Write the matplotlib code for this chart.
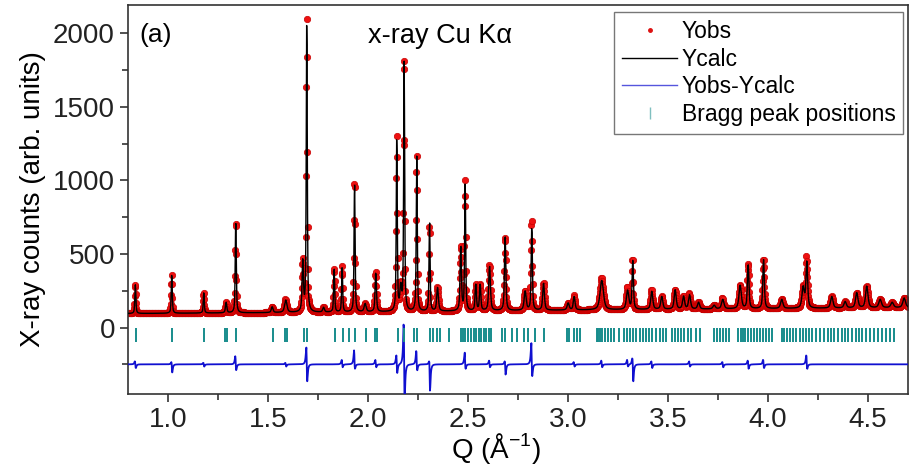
import numpy as np
import matplotlib
matplotlib.use("Agg")
import matplotlib.pyplot as plt
from matplotlib.ticker import MultipleLocator
from matplotlib.lines import Line2D

plt.rcParams['font.family'] = ['Liberation Sans', 'DejaVu Sans']
plt.rcParams['mathtext.fontset'] = 'custom'
plt.rcParams['mathtext.rm'] = 'Liberation Sans'

# peaks: position (1/A), top of Ycalc (counts), fwhm (1/A)
peak_q = [0.836, 1.018, 1.178, 1.290, 1.338, 1.520, 1.588, 1.673, 1.693, 1.777,
          1.830, 1.870, 1.932, 1.985, 2.038, 2.143, 2.163, 2.180, 2.243, 2.307,
          2.347, 2.463, 2.485, 2.538, 2.560, 2.607, 2.685, 2.785, 2.818, 2.877,
          3.000, 3.030, 3.168, 3.297, 3.323, 3.418, 3.468, 3.535, 3.577, 3.607,
          3.652, 3.730, 3.773, 3.860, 3.900, 3.977, 4.068, 4.175, 4.193, 4.318,
          4.385, 4.443, 4.493, 4.560, 4.620, 4.680]
peak_h = [290, 360, 235, 170, 720, 140, 185, 440, 2090, 135,
          400, 410, 985, 160, 370, 1290, 260, 1795, 1160, 720,
          270, 545, 985, 290, 290, 415, 620, 245, 677, 300,
          165, 210, 320, 250, 450, 245, 210, 255, 210, 220,
          170, 150, 190, 285, 425, 460, 190, 270, 440, 210,
          175, 235, 280, 190, 170, 200]
peak_w = [0.006, 0.006, 0.006, 0.008, 0.006, 0.010, 0.014, 0.008, 0.006, 0.010,
          0.006, 0.006, 0.006, 0.012, 0.008, 0.006, 0.010, 0.006, 0.006, 0.006,
          0.010, 0.008, 0.006, 0.008, 0.008, 0.010, 0.008, 0.012, 0.007, 0.010,
          0.012, 0.010, 0.020, 0.014, 0.008, 0.012, 0.012, 0.012, 0.012, 0.012,
          0.012, 0.014, 0.014, 0.014, 0.009, 0.009, 0.014, 0.014, 0.010, 0.014,
          0.014, 0.014, 0.014, 0.016, 0.016, 0.016]

# background level
bg_q = [0.8, 2.0, 3.0, 4.7]
bg_y = [95, 105, 118, 135]

# misfit features: position, upper lobe, lower lobe (counts)
res_q = [0.836, 1.018, 1.178, 1.338, 1.588, 1.693, 1.870, 1.932, 2.038, 2.143,
         2.180, 2.243, 2.307, 2.485, 2.607, 2.685, 2.818, 3.030, 3.168, 3.297,
         3.323, 3.418, 3.607, 3.773, 3.900, 3.977, 4.193]
res_hi = [20, 15, 10, 55, 10, 115, 30, 95, 30, 60,
          270, 90, 20, 80, 25, 20, 145, 15, 25, 30,
          40, 20, 20, 15, 25, 30, 60]
res_lo = [25, 55, 15, 40, 15, 115, 20, 30, 20, 60,
          240, 40, 180, 30, 20, 70, 80, 15, 20, 15,
          115, 25, 15, 20, 30, 25, 30]

bragg_q = [0.837, 1.020, 1.180, 1.285, 1.292, 1.337, 1.525, 1.585, 1.592, 1.678,
           1.695, 1.833, 1.875, 1.903, 1.933, 1.988, 2.036, 2.042, 2.147, 2.180,
           2.228, 2.242, 2.308, 2.325, 2.342, 2.358, 2.403, 2.465, 2.472, 2.485,
           2.500, 2.515, 2.530, 2.540, 2.555, 2.565, 2.580, 2.590, 2.605, 2.612,
           2.667, 2.683, 2.717, 2.742, 2.777, 2.800, 2.835, 2.877, 2.995, 3.005,
           3.030, 3.045, 3.060, 3.145, 3.150, 3.160, 3.170, 3.185, 3.200, 3.215,
           3.230, 3.255, 3.280, 3.295, 3.310, 3.325, 3.340, 3.360, 3.375, 3.390,
           3.405, 3.420, 3.440, 3.460, 3.475, 3.490, 3.520, 3.535, 3.550, 3.565,
           3.580, 3.600, 3.615, 3.640, 3.660, 3.730, 3.745, 3.760, 3.775, 3.790,
           3.805, 3.850, 3.862, 3.875, 3.885, 3.900, 3.915, 3.930, 3.945, 3.960,
           3.975, 3.990, 4.005, 4.020, 4.068, 4.080, 4.095, 4.110, 4.125, 4.140,
           4.160, 4.175, 4.190, 4.205, 4.220, 4.240, 4.260, 4.280, 4.300, 4.315,
           4.330, 4.350, 4.370, 4.385, 4.400, 4.420, 4.440, 4.455, 4.470, 4.490,
           4.510, 4.530, 4.550, 4.570, 4.590, 4.610, 4.630]

diff_offset = -250
bragg_y = -50

# measurement grid and pattern
q = np.arange(0.8, 4.7, 0.0015)
bg = np.interp(q, bg_q, bg_y)
ycalc = bg.copy()
for p, h, w in zip(peak_q, peak_h, peak_w):
    b = np.interp(p, bg_q, bg_y)
    x = (q - p) / (w / 2)
    ycalc += (h - b) * (0.6 / (1 + x**2) + 0.4 * np.exp(-np.log(2) * x**2))

resid = np.zeros_like(q)
for p, hi, lo in zip(res_q, res_hi, res_lo):
    x = (q - p) / 0.004
    s = -2 * x / (1 + x**2)**2
    s = s / np.abs(s).max()
    resid += np.where(s > 0, hi * s, lo * s)
yobs = ycalc + resid

fig = plt.figure(figsize=(9.22, 4.66), dpi=100)
ax = fig.add_axes([0.139, 0.155, 0.846, 0.834])

ax.plot(q, yobs, 'o', ms=4.6, mfc='#ee1111', mec='#c80000', mew=0.5, zorder=2)
ax.plot(q, ycalc, '-', color='black', lw=1.0, zorder=3)
ax.plot(q, yobs - ycalc + diff_offset, '-', color='#1010d0', lw=1.3, zorder=3)
ax.plot(bragg_q, [bragg_y] * len(bragg_q), '|', color='#178c8c', ms=10, mew=1.4, zorder=3)

ax.set_xlim(0.8, 4.7)
ax.set_ylim(-450, 2190)
ax.xaxis.set_major_locator(MultipleLocator(0.5))
ax.xaxis.set_minor_locator(MultipleLocator(0.25))
ax.yaxis.set_major_locator(MultipleLocator(500))
ax.yaxis.set_minor_locator(MultipleLocator(250))
ax.tick_params(which='both', direction='out', top=False, right=False, labelsize=20, colors='#222222')
ax.tick_params(which='major', length=6, width=1.1)
ax.tick_params(which='minor', length=4, width=1.1)
for s in ax.spines.values():
    s.set_linewidth(1.2)
    s.set_color('#333333')

ax.set_ylabel('X-ray counts (arb. units)', fontsize=20, labelpad=5)
ax.set_xlabel(r'Q (Å$^{\mathregular{-1}}$)', fontsize=20)
ax.xaxis.set_label_coords(0.472, -0.097)

ax.text(0.015, 0.955, '(a)', transform=ax.transAxes, fontsize=19, va='top', ha='left')
ax.text(0.40, 0.955, 'x-ray Cu Kα', transform=ax.transAxes, fontsize=19.5, va='top', ha='center')

handles = [
    Line2D([], [], ls='none', marker='o', ms=2.5, color='#dd1111'),
    Line2D([], [], color='black', lw=1.0),
    Line2D([], [], color='#5555dd', lw=1.0),
    Line2D([], [], ls='none', marker='|', ms=8, mew=1, color='#7fbfbf'),
]
leg = ax.legend(handles, ['Yobs', 'Ycalc', 'Yobs-Ycalc', 'Bragg peak positions'],
                loc='upper right', bbox_to_anchor=(0.994, 0.982), fontsize=16.5,
                frameon=True, fancybox=False, framealpha=1, edgecolor='#777777',
                handlelength=2.4, handletextpad=0.2, labelspacing=0.2,
                borderpad=0.35, borderaxespad=0)
leg.get_frame().set_linewidth(1.0)

fig.savefig('out.png', dpi=100)
